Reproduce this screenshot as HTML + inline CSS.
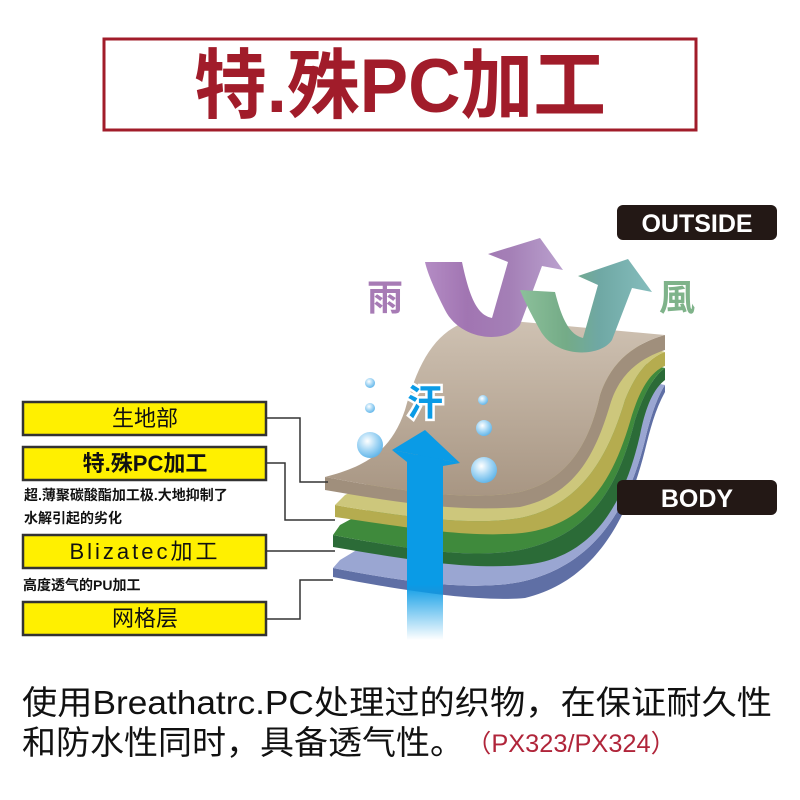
<!DOCTYPE html>
<html><head><meta charset="utf-8"><style>
html,body{margin:0;padding:0;background:#fff}
svg{display:block}
text{font-family:"Liberation Sans","Noto Sans CJK SC",sans-serif}
</style></head><body>
<svg width="800" height="800" viewBox="0 0 800 800" xmlns="http://www.w3.org/2000/svg">
<defs>
<linearGradient id="pur" gradientUnits="userSpaceOnUse" x1="425" y1="0" x2="565" y2="0"><stop offset="0" stop-color="#b48cc4"/><stop offset="0.3" stop-color="#a175b2"/><stop offset="0.6" stop-color="#a47fb6"/><stop offset="1" stop-color="#bba2cf"/></linearGradient>
<linearGradient id="tea" gradientUnits="userSpaceOnUse" x1="520" y1="0" x2="652" y2="0"><stop offset="0" stop-color="#8cc09a"/><stop offset="0.35" stop-color="#74ab87"/><stop offset="0.6" stop-color="#6fa8a4"/><stop offset="1" stop-color="#85bdbd"/></linearGradient>
<linearGradient id="bar" x1="0" y1="0" x2="0" y2="1"><stop offset="0.7" stop-color="#0a9be6"/><stop offset="1" stop-color="#0a9be6" stop-opacity="0"/></linearGradient>
<linearGradient id="tanf" x1="0" y1="0" x2="0" y2="1"><stop offset="0" stop-color="#cfc2b3"/><stop offset="1" stop-color="#a89683"/></linearGradient>
<radialGradient id="bub" cx="0.4" cy="0.35" r="0.7"><stop offset="0" stop-color="#ffffff"/><stop offset="0.5" stop-color="#a8d8f5"/><stop offset="1" stop-color="#5ab2e8"/></radialGradient>
</defs>

<rect x="104" y="39" width="592" height="91" fill="none" stroke="#a11c2a" stroke-width="3"/>
<text x="400" y="112" text-anchor="middle" font-size="76" font-weight="bold" fill="#a11c2a" textLength="412" lengthAdjust="spacingAndGlyphs">特.殊PC加工</text>

<rect x="617" y="205" width="160" height="35" rx="6" fill="#231815"/>
<text x="697" y="232" text-anchor="middle" font-size="25" font-weight="bold" fill="#fff">OUTSIDE</text>

<text x="385" y="310" text-anchor="middle" font-size="36" font-weight="bold" fill="#a77bb5">雨</text>
<text x="677" y="310" text-anchor="middle" font-size="36" font-weight="bold" fill="#7fb38a">風</text>

<!-- blue layer -->
<path d="M333,568 C420,585 480,590 520,582 C600,565 630,500 645,440 C652,410 660,392 665,385 L665,392 C655,410 650,430 645,450 C630,510 600,580 525,598 C480,602 410,592 333,577 Z" fill="#5f6fa5"/>
<path d="M333,568 C420,585 480,590 520,582 C600,565 630,500 645,440 C652,410 660,392 665,385 L640,380 L340,560 Z" fill="#9aa6d2"/>
<!-- green layer -->
<path d="M333,535 C420,552 480,558 520,550 C595,535 620,480 635,420 C645,390 655,375 665,368 L665,380 C652,390 645,410 640,435 C625,500 595,560 522,565 C470,570 410,560 333,547 Z" fill="#2b6b37"/>
<path d="M333,535 C420,552 480,558 520,550 C595,535 620,480 635,420 C645,390 655,375 665,368 L640,362 L340,525 Z" fill="#3f8a3c"/>
<!-- yellow layer -->
<path d="M335,505 C420,520 480,525 520,518 C585,505 610,450 625,400 C635,375 648,358 665,352 L665,366 C650,372 640,390 632,415 C615,475 590,525 522,533 C470,538 410,528 335,517 Z" fill="#b5ac4f"/>
<path d="M335,505 C420,520 480,525 520,518 C585,505 610,450 625,400 C635,375 648,358 665,352 L640,345 L345,495 Z" fill="#cdc77c"/>
<!-- tan layer -->
<path d="M325,477 C420,495 480,500 520,492 C570,480 590,440 600,395 C610,365 630,345 665,335 L665,350 C635,360 618,378 610,405 C595,455 575,495 520,507 C460,512 400,503 325,490 Z" fill="#a08f7c"/>
<path d="M325,477 C360,468 390,455 405,410 C420,355 440,325 480,318 L665,335 C630,345 610,365 600,395 C590,440 570,480 520,492 C480,500 420,495 325,477 Z" fill="url(#tanf)"/>

<!-- arrows (in front of fabric) -->
<path d="M425,262 L462,262 C470,300 478,315 492,318 L508,262 L488,254 L540,238 L563,270 L542,266 L520,325 C505,345 460,340 445,310 C435,290 428,275 425,262 Z" fill="url(#pur)"/>
<path d="M520,290 L555,292 C562,320 570,335 583,338 L598,285 L578,276 L628,259 L652,292 L632,288 L612,340 C600,358 555,358 540,330 C530,312 524,300 520,290 Z" fill="url(#tea)"/>

<rect x="617" y="480" width="160" height="35" rx="6" fill="#231815"/>
<text x="697" y="507" text-anchor="middle" font-size="25" font-weight="bold" fill="#fff">BODY</text>

<!-- sweat arrow -->
<rect x="407" y="455" width="36" height="185" fill="url(#bar)"/>
<polygon points="392,450 425,430 460,463" fill="#0a9be6"/>
<polygon points="392,450 460,463 443,466 407,462" fill="#0a9be6"/>
<text x="425" y="415" text-anchor="middle" font-size="36" font-weight="bold" fill="#0a9be6" stroke="#fff" stroke-width="5" paint-order="stroke">汗</text>
<circle cx="370" cy="383" r="5" fill="url(#bub)"/>
<circle cx="370" cy="408" r="5" fill="url(#bub)"/>
<circle cx="370" cy="445" r="13" fill="url(#bub)"/>
<circle cx="483" cy="400" r="5" fill="url(#bub)"/>
<circle cx="484" cy="428" r="8" fill="url(#bub)"/>
<circle cx="484" cy="470" r="13" fill="url(#bub)"/>

<!-- connectors -->
<g fill="none" stroke="#333" stroke-width="1.5">
<polyline points="266,418 300,418 300,482 328,482"/>
<polyline points="266,463 285,463 285,520 335,520"/>
<polyline points="266,551 335,551"/>
<polyline points="266,619 300,619 300,580 333,580"/>
</g>

<!-- label boxes -->
<g fill="#fff000" stroke="#333" stroke-width="2.5">
<rect x="23" y="402" width="243" height="33"/>
<rect x="23" y="447" width="243" height="33"/>
<rect x="23" y="535" width="243" height="33"/>
<rect x="23" y="602" width="243" height="33"/>
</g>
<g font-size="22" text-anchor="middle" fill="#111">
<text x="145" y="426">生地部</text>
<text x="145" y="471" font-weight="bold">特.殊PC加工</text>
<text x="145" y="559" letter-spacing="3">Blizatec加工</text>
<text x="145" y="626">网格层</text>
</g>
<g font-size="14" font-weight="bold" fill="#111">
<text x="24" y="500">超.薄聚碳酸酯加工极.大地抑制了</text>
<text x="24" y="523">水解引起的劣化</text>
<text x="23" y="590">高度透气的PU加工</text>
</g>

<text x="22" y="714" font-size="33" fill="#111" textLength="750" lengthAdjust="spacingAndGlyphs">使用Breathatrc.PC处理过的织物，在保证耐久性</text>
<text x="22" y="754" font-size="33" fill="#111" textLength="442" lengthAdjust="spacingAndGlyphs">和防水性同时，具备透气性。</text>
<text x="466" y="752" font-size="25" fill="#b0253a" textLength="210" lengthAdjust="spacingAndGlyphs">（PX323/PX324）</text>
</svg>
</body></html>
